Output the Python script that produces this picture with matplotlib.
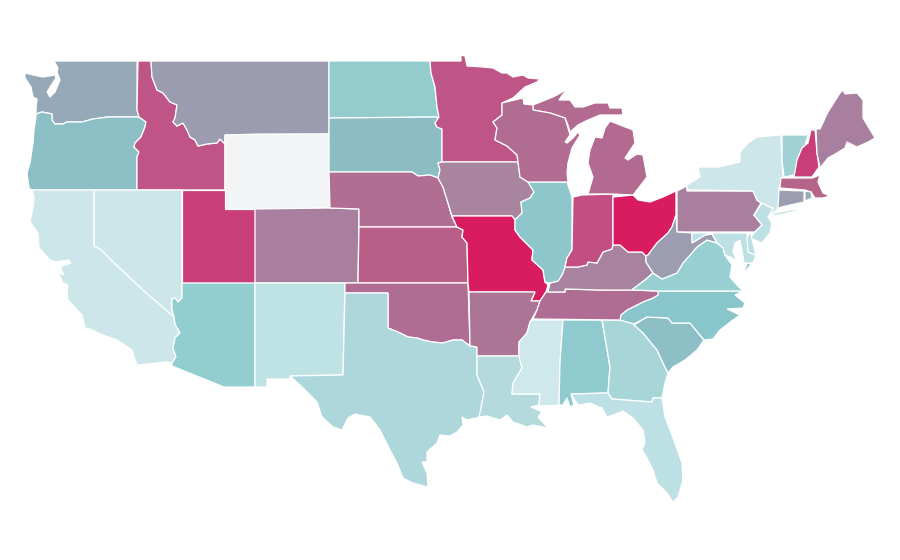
#!/usr/bin/python3
"""Plots a choropleth of the lower 48 states from outlines read off the map."""

import matplotlib
matplotlib.use('Agg')
import matplotlib.pyplot as plt
from matplotlib.patches import Polygon

# Outlines, in map units
WA = [(54,61),(137,61),(137,110),(139,117),(108,117),(93,119),(82,122),(67,122),(63,124),(55,124),(52,120),(52,114),(42,112),(36,114),(36,108),(37,99),(33,97),(31,87),(25,78),(25,73),(33,75),(43,77),(55,75),(56,78),(47,92),(50,97),(55,92),(60,80),(57,72),(58,68)]
OR = [(36,114),(42,112),(52,114),(52,120),(55,124),(63,124),(67,122),(82,122),(93,119),(108,117),(139,117),(146,122),(145,127),(141,137),(135,143),(134,147),(139,152),(137,157),(137,190),(32,190),(29,188),(27,173),(30,163),(33,143),(34,130),(36,117)]
ID = [(138,61),(151,61),(152,77),(157,90),(163,93),(170,102),(177,105),(175,118),(173,122),(177,126),(183,123),(187,130),(190,137),(195,140),(198,146),(207,144),(217,143),(220,139),(225,144),(225,190),(137,190),(137,157),(139,152),(134,147),(135,143),(141,137),(145,127),(146,122),(139,117),(137,110)]
MT = [(151,61),(329,61),(329,134),(225,135),(225,144),(220,139),(217,143),(207,144),(198,146),(195,140),(190,137),(187,130),(183,123),(177,126),(173,122),(175,118),(177,105),(170,102),(163,93),(157,90),(152,77)]
WY = [(225,135),(260,134),(329,134),(330,208),(290,209),(225,209)]
UT = [(182,190),(225,190),(225,209),(255,209),(255,283),(182,283)]
CO = [(255,209),(330,208),(359,209),(358,283),(255,283)]
NV = [(94,190),(182,190),(182,298),(178,302),(175,298),(172,299),(172,310),(174,317),(145,292),(113,262),(100,249),(94,246)]
CA = [(32,190),(94,190),(94,246),(100,249),(113,262),(145,292),(174,317),(175,324),(180,333),(175,338),(173,348),(176,357),(172,363),(167,362),(137,365),(134,357),(132,350),(117,340),(103,335),(90,329),(85,328),(82,315),(68,300),(67,292),(68,285),(63,283),(58,272),(64,275),(60,267),(71,263),(68,260),(60,261),(57,262),(50,260),(39,248),(38,233),(30,222),(33,208),(34,197)]
AZ = [(182,283),(255,283),(255,387),(224,387),(172,366),(172,363),(176,357),(173,348),(175,338),(180,333),(175,324),(174,317),(172,310),(172,299),(175,298),(178,302),(182,298)]
NM = [(255,283),(345,283),(343,375),(290,376),(291,379),(267,379),(267,387),(255,387)]
ND = [(329,61),(430,61),(431,73),(435,87),(437,107),(439,117),(329,118)]
SD = [(329,118),(439,117),(435,123),(437,127),(442,129),(442,162),(438,163),(440,170),(438,178),(430,175),(418,176),(412,172),(329,172)]
NE = [(329,172),(412,172),(418,176),(430,175),(438,178),(443,187),(448,203),(452,217),(457,227),(359,227),(359,209),(330,208)]
KS = [(359,227),(457,227),(463,230),(462,237),(467,243),(468,283),(358,283)]
OK = [(345,283),(468,283),(470,346),(462,340),(453,340),(443,343),(432,342),(423,340),(417,338),(408,337),(398,332),(388,328),(388,293),(345,293)]
TX = [(345,293),(388,293),(388,328),(398,332),(408,337),(417,338),(423,340),(432,342),(443,343),(453,340),(462,340),(470,346),(477,347),(477,375),(482,387),(484,392),(482,403),(480,417),(467,420),(462,417),(463,425),(457,432),(450,436),(440,435),(437,443),(427,452),(427,462),(422,462),(427,473),(428,487),(413,483),(403,478),(397,463),(390,450),(380,430),(370,417),(355,414),(348,418),(342,430),(333,427),(322,417),(317,402),(302,387),(290,376),(343,375)]
MN = [(430,61),(461,61),(461,55),(465,56),(467,66),(483,67),(493,68),(502,73),(507,73),(513,77),(523,75),(528,78),(540,79),(537,82),(525,87),(513,98),(502,103),(502,115),(493,122),(497,128),(495,140),(507,146),(517,155),(518,162),(442,162),(442,129),(437,127),(435,123),(439,117),(437,107),(435,87),(431,73)]
IA = [(442,162),(518,162),(520,177),(528,182),(534,192),(530,198),(521,202),(522,213),(515,220),(512,216),(452,216),(448,203),(443,187),(438,178),(440,170),(438,163)]
MO = [(452,216),(512,216),(515,220),(515,230),(520,237),(533,250),(532,260),(543,270),(545,282),(548,285),(546,292),(540,301),(531,301),(535,292),(469,292),(468,283),(467,243),(462,237),(463,230),(457,227)]
AR = [(469,292),(535,292),(531,301),(540,301),(537,310),(530,322),(527,333),(519,342),(519,356),(477,356),(477,347),(470,346)]
LA = [(477,356),(519,356),(522,368),(513,383),(512,394),(540,394),(539,405),(531,407),(542,412),(538,417),(548,428),(533,425),(527,427),(513,422),(507,415),(500,420),(487,416),(479,417),(482,403),(484,392),(482,387),(477,375)]
MS = [(532,320),(563,320),(560,363),(559,405),(543,406),(539,405),(540,394),(512,394),(513,383),(522,368),(519,356),(519,342),(527,333),(530,322)]
AL = [(563,320),(602,320),(610,367),(608,393),(571,394),(574,405),(570,407),(567,398),(563,405),(559,405),(560,363)]
GA = [(602,320),(635,320),(634,325),(643,333),(657,350),(663,363),(668,373),(665,383),(662,398),(653,398),(652,402),(612,399),(608,393),(610,367)]
FL = [(571,394),(608,393),(612,399),(652,402),(653,398),(662,398),(665,417),(673,438),(682,463),(683,480),(678,497),(673,502),(667,493),(657,483),(653,470),(647,458),(642,450),(645,442),(643,430),(633,418),(623,411),(613,415),(607,417),(602,408),(590,403),(578,405)]
SC = [(634,325),(647,317),(668,318),(672,323),(690,323),(704,340),(697,350),(685,360),(673,367),(668,373),(663,363),(657,350),(643,333)]
NC = [(658,291),(743,291),(735,295),(745,303),(743,308),(727,309),(740,315),(733,320),(720,330),(713,339),(704,340),(690,323),(672,323),(668,318),(647,317),(634,324),(620,320),(621,315),(627,310),(643,302),(653,298),(658,295)]
TN = [(548,292),(565,292),(565,289),(600,290),(632,290),(658,291),(658,295),(653,298),(643,302),(627,310),(621,315),(620,320),(533,319),(537,310),(540,301),(546,292)]
KY = [(548,292),(550,283),(558,281),(562,275),(565,267),(578,267),(587,265),(588,262),(597,263),(603,252),(612,249),(613,245),(620,245),(628,252),(642,252),(646,256),(646,262),(653,273),(645,280),(633,289),(632,290),(600,290),(565,289),(565,292)]
IL = [(528,182),(567,182),(572,197),(572,250),(567,258),(565,267),(562,275),(558,281),(550,283),(545,282),(543,270),(532,260),(533,250),(520,237),(515,230),(515,220),(522,213),(521,202),(530,198),(534,192)]
IN = [(573,197),(582,195),(613,194),(613,245),(612,249),(603,252),(597,263),(588,262),(587,265),(578,267),(565,267),(567,258),(572,250)]
OH = [(613,197),(633,195),(638,200),(650,202),(663,197),(676,191),(676,215),(672,227),(668,233),(657,243),(648,255),(646,256),(642,252),(628,252),(620,245),(613,245)]
MI_LOWER = [(588,194),(613,194),(633,195),(637,190),(647,177),(643,155),(637,154),(628,160),(625,158),(635,143),(633,130),(620,125),(610,121),(605,128),(602,138),(595,137),(590,150),(588,163),(593,177)]
MI_UPPER = [(533,105),(553,97),(557,95),(562,92),(569,90),(563,94),(559,100),(570,100),(575,107),(583,107),(595,103),(608,103),(610,108),(622,108),(623,115),(610,115),(600,115),(588,120),(578,125),(570,132),(568,125),(565,118),(550,113),(533,110)]
WI = [(502,103),(523,98),(524,104),(533,105),(533,110),(550,113),(565,118),(568,128),(570,135),(565,142),(567,143),(573,138),(578,132),(580,135),(572,148),(568,163),(567,173),(568,182),(528,182),(520,177),(518,162),(517,155),(507,146),(495,140),(497,128),(493,122),(502,115)]
PA = [(677,191),(687,186),(687,191),(753,191),(757,200),(761,203),(754,215),(762,225),(755,232),(677,232)]
NY = [(687,190),(687,185),(700,177),(698,167),(718,167),(740,162),(740,152),(748,143),(757,137),(781,135),(782,160),(783,177),(779,188),(779,205),(777,210),(773,213),(802,208),(793,212),(775,216),(770,212),(773,208),(761,203),(757,200),(753,191)]
NJ = [(762,203),(773,209),(768,217),(772,223),(770,233),(762,243),(750,238),(755,232),(762,225),(754,215)]
VT = [(782,135),(808,135),(805,145),(797,160),(795,175),(784,177),(782,160)]
NH = [(811,130),(815,130),(817,153),(819,167),(812,177),(794,177),(797,160),(802,148),(808,143)]
ME = [(816,129),(820,129),(828,112),(840,93),(843,90),(845,94),(857,93),(863,100),(863,118),(875,138),(868,142),(857,147),(847,142),(845,148),(837,153),(828,158),(820,168),(817,153)]
MA = [(781,178),(812,178),(820,175),(818,182),(823,193),(830,196),(823,198),(815,198),(811,192),(805,190),(780,188)]
CT = [(779,190),(804,191),(804,202),(790,205),(778,208)]
RI = [(805,191),(811,192),(812,198),(805,201)]
VA = [(633,289),(645,280),(653,273),(662,279),(677,273),(683,263),(690,255),(697,247),(707,240),(717,243),(723,248),(725,255),(732,265),(730,277),(737,285),(743,291),(658,291),(632,290)]
VA_SHORE = [(752,263),(747,263),(742,279),(746,271)]
WV = [(646,256),(648,255),(657,243),(668,233),(672,227),(676,215),(677,232),(692,233),(692,243),(705,235),(712,234),(717,243),(707,240),(697,247),(690,255),(683,263),(677,273),(662,279),(653,273),(646,262)]
MD = [(692,233),(747,233),(748,252),(756,255),(753,263),(744,263),(742,250),(740,240),(735,243),(733,252),(737,262),(732,258),(725,255),(723,248),(717,243),(712,234),(705,235),(692,243)]
DE = [(750,232),(747,238),(748,252),(756,255),(753,243)]

# Fill of each state
STATES = [WA, OR, ID, MT, WY, UT, CO, NV, CA, AZ, NM, ND, SD, NE, KS, OK, TX, MN, IA, MO, AR, LA, MS, AL, GA, FL, SC, NC, TN, KY, IL, IN, OH, MI_LOWER, MI_UPPER, WI, PA, NY, NJ, VT, NH, ME, MA, CT, RI, VA, VA_SHORE, WV, MD, DE]
FILLS = ['#96a9b8', '#8cbfc6', '#bf5586', '#9c9cb0', '#f3f4f6', '#c83e78', '#a87f9e', '#cde6ea', '#cde6ea', '#92cdcf', '#bfe2e5', '#92cccd', '#8cbdc5', '#b06e93', '#b85e88', '#b06d93', '#add7db', '#bf5486', '#a8849f', '#d91c5f', '#ac7596', '#b4dadd', '#cfe8eb', '#8fcace', '#a8d6d8', '#bce0e3', '#8cbfc6', '#88c6cc', '#b06d93', '#a8839f', '#8dc7cc', '#c24e82', '#d91c5f', '#b26a91', '#b26a91', '#b16c92', '#a87f9e', '#cde6ea', '#bce0e3', '#a0d2d5', '#c83e78', '#a87f9e', '#b56589', '#9c9db1', '#96a9b8', '#98cfd2', '#98cfd2', '#9c9db1', '#bce0e3', '#b9dfe2']


def main():
    """Draws the map and saves it."""
    fig = plt.figure(figsize=(9, 5.6), dpi=100)
    axes = fig.add_axes([0, 0, 1, 1])
    for outline, fill in zip(STATES, FILLS):
        axes.add_patch(Polygon(outline, closed=True, facecolor=fill,
                               edgecolor='white', linewidth=0.9))
    axes.set_xlim(0, 900)
    axes.set_ylim(560, 0)
    axes.axis('off')
    fig.savefig('out.png', dpi=100)
    plt.close(fig)


if __name__ == '__main__':
    main()
